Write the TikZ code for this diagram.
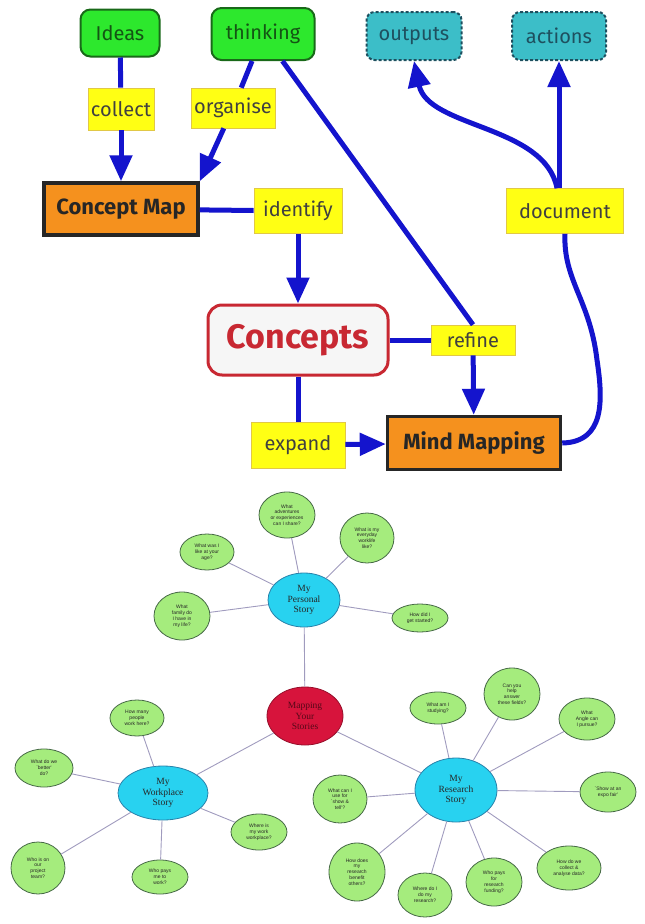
\documentclass[tikz,border=0pt]{standalone}
\usepackage{fontspec}
\setmainfont{Liberation Serif}
\newfontfamily\labelfont{Fira Sans}
\newfontfamily\bubblefont{Liberation Sans}
\usetikzlibrary{arrows.meta,shapes.geometric}

\definecolor{linkblue}{RGB}{20,20,205}
\definecolor{ideagreen}{RGB}{45,232,45}
\definecolor{ideaedge}{RGB}{25,105,25}
\definecolor{outteal}{RGB}{60,190,200}
\definecolor{outedge}{RGB}{30,80,95}
\definecolor{verbyellow}{RGB}{255,255,20}
\definecolor{verbedge}{RGB}{225,200,70}
\definecolor{maporange}{RGB}{245,145,30}
\definecolor{conceptred}{RGB}{200,40,50}
\definecolor{bubblegreen}{RGB}{165,236,125}
\definecolor{bubbleedge}{RGB}{70,105,70}
\definecolor{storycyan}{RGB}{40,210,240}
\definecolor{storyedge}{RGB}{40,130,170}
\definecolor{hubred}{RGB}{215,20,60}
\definecolor{spokegrey}{RGB}{160,155,190}

\begin{document}
\begin{tikzpicture}[x=1pt, y=-1pt,
    idea/.style={rounded corners=10pt, fill=ideagreen, draw=ideaedge,
        line width=2pt, font=\labelfont\fontsize{20}{22}\selectfont,
        text=ideaedge!80!black},
    outbox/.style={rounded corners=8pt, fill=outteal, draw=outedge,
        line width=2pt, dash pattern=on 3pt off 2pt,
        font=\labelfont\fontsize{20}{22}\selectfont, text=outedge},
    verb/.style={fill=verbyellow, draw=verbedge, line width=0.6pt,
        inner sep=1pt, font=\labelfont\fontsize{20}{22}\selectfont,
        text=black!75},
    mapbox/.style={fill=maporange, draw=black!85, line width=3.5pt,
        font=\labelfont\bfseries\fontsize{22}{24}\selectfont,
        text=black!85},
    link/.style={draw=linkblue, line width=5pt},
    arrow/.style={link, -{Triangle[width=22pt,length=26pt]}},
    bubble/.style={ellipse, fill=bubblegreen, draw=bubbleedge,
        line width=0.8pt, inner sep=0pt, align=center, text=black!85,
        font=\bubblefont\fontsize{5}{5.8}\selectfont},
    story/.style={ellipse, fill=storycyan, draw=storyedge, line width=0.8pt,
        inner sep=0pt, align=center, text=black!85,
        font=\fontsize{9.5}{10.5}\selectfont},
    spoke/.style={draw=spokegrey, line width=0.9pt}]
\useasboundingbox (0,0) rectangle (645,924);

\node[idea, minimum width=79pt, minimum height=47pt] (ideas) at (120,33) {Ideas};
\node[idea, minimum width=103pt, minimum height=52pt] (thinking) at (263,34) {thinking};
\node[outbox, minimum width=95pt, minimum height=48pt] (outputs) at (414,36) {outputs};
\node[outbox, minimum width=94pt, minimum height=48pt] (actions) at (559,36) {actions};
\node[verb, minimum width=66pt, minimum height=42pt] (collect) at (121,109) {collect};
\node[verb, minimum width=84pt, minimum height=40pt] (organise) at (233,108) {organise};
\node[mapbox, minimum width=154pt, minimum height=52pt] (cmap) at (121,209) {Concept Map};
\node[verb, minimum width=88pt, minimum height=45pt] (identify) at (298,211) {identify};
\node[verb, minimum width=117pt, minimum height=45pt] (document) at (565,211) {document};
\node[rounded corners=14pt, fill=gray!7, draw=conceptred, line width=3pt,
    minimum width=180pt, minimum height=70pt, text=conceptred,
    font=\labelfont\bfseries\fontsize{34}{36}\selectfont] (concepts) at (298,340) {Concepts};
\node[verb, minimum width=84pt, minimum height=30pt] (refine) at (473,340) {refine};
\node[verb, minimum width=94pt, minimum height=46pt] (expand) at (298,445) {expand};
\node[mapbox, minimum width=173pt, minimum height=53pt] (mmap) at (474,443) {Mind Mapping};

\draw[link] (ideas) -- (collect);
\draw[arrow] (collect) -- (cmap);
\draw[link] (thinking) -- (organise);
\draw[arrow] (organise) -- (cmap.north east);
\draw[link] (thinking) -- (refine.north);
\draw[link] (cmap) -- (identify);
\draw[arrow] (identify) -- (concepts);
\draw[link] (concepts) -- (refine);
\draw[arrow] (refine) -- (mmap);
\draw[link] (concepts) -- (expand);
\draw[arrow] (expand) -- (mmap);
\draw[link] (mmap.east) .. controls (605,442) and (603,400) .. (597,360)
    .. controls (590,300) and (563,280) .. (document.south);
\draw[arrow] (document.north -| actions) -- (actions);
\draw[arrow] ([xshift=-8pt]document.north) .. controls (545,125) and (428,128) .. (outputs.south);

\node[ellipse, fill=hubred, draw=hubred!70!black, line width=0.8pt,
    minimum width=76pt, minimum height=58pt, inner sep=0pt, align=center,
    text=hubred!40!black, font=\fontsize{9.5}{10.5}\selectfont] (hub) at (305,716) {Mapping\\Your\\Stories};
\node[story, minimum width=72pt, minimum height=54pt] (pers) at (304,600) {My\\Personal\\Story};
\node[story, minimum width=90pt, minimum height=54pt] (work) at (163,793) {My\\Workplace\\Story};
\node[story, minimum width=82pt, minimum height=64pt] (res) at (456,790) {My\\Research\\Story};

\foreach \n/\x/\y/\w/\h/\txt in {
    p1/287/515/56/46/{What\\adventures\\or experiences\\can I share?},
    p2/367/538/54/50/{What is my\\everyday\\worklife\\like?},
    p3/207/552/54/36/{What was I\\like at your\\age?},
    p4/182/616/56/48/{What\\family do\\I have in\\my life?},
    p5/420/618/56/28/{How did I\\get started?},
    w1/137/718/54/36/{How many\\people\\work here?},
    w2/44/768/58/38/{What do we\\`better'\\do?},
    w3/38/868/54/52/{Who is on\\our\\project\\team?},
    w4/160/877/56/34/{Who pays\\me to\\work?},
    w5/259/832/56/36/{Where is\\my work\\workplace?},
    r1/438/708/56/32/{What am I\\studying?},
    r2/512/694/56/52/{Can you\\help\\answer\\these fields?},
    r3/587/719/56/42/{What\\Angle can\\I pursue?},
    r4/608/792/56/40/{`Show at an\\expo fair'},
    r5/569/868/64/44/{How do we\\collect \&\\analyse data?},
    r6/494/882/56/48/{Who pays\\for\\research\\funding?},
    r7/425/895/54/44/{Where do I\\do my\\research?},
    r8/357/872/56/58/{How does\\my\\research\\benefit\\others?},
    r9/340/799/54/48/{What can I\\use for\\`show \&\\tell'?}}
    \node[bubble, minimum width=\w pt, minimum height=\h pt] (\n) at (\x,\y) {\txt};

\draw[spoke] (hub) -- (pers);
\draw[spoke] (hub) -- (work);
\draw[spoke] (hub) -- (res);
\foreach \n in {p1,p2,p3,p4,p5}
    \draw[spoke] (pers) -- (\n);
\foreach \n in {w1,w2,w3,w4,w5}
    \draw[spoke] (work) -- (\n);
\foreach \n in {r1,r2,r3,r4,r5,r6,r7,r8,r9}
    \draw[spoke] (res) -- (\n);
\end{tikzpicture}
\end{document}
